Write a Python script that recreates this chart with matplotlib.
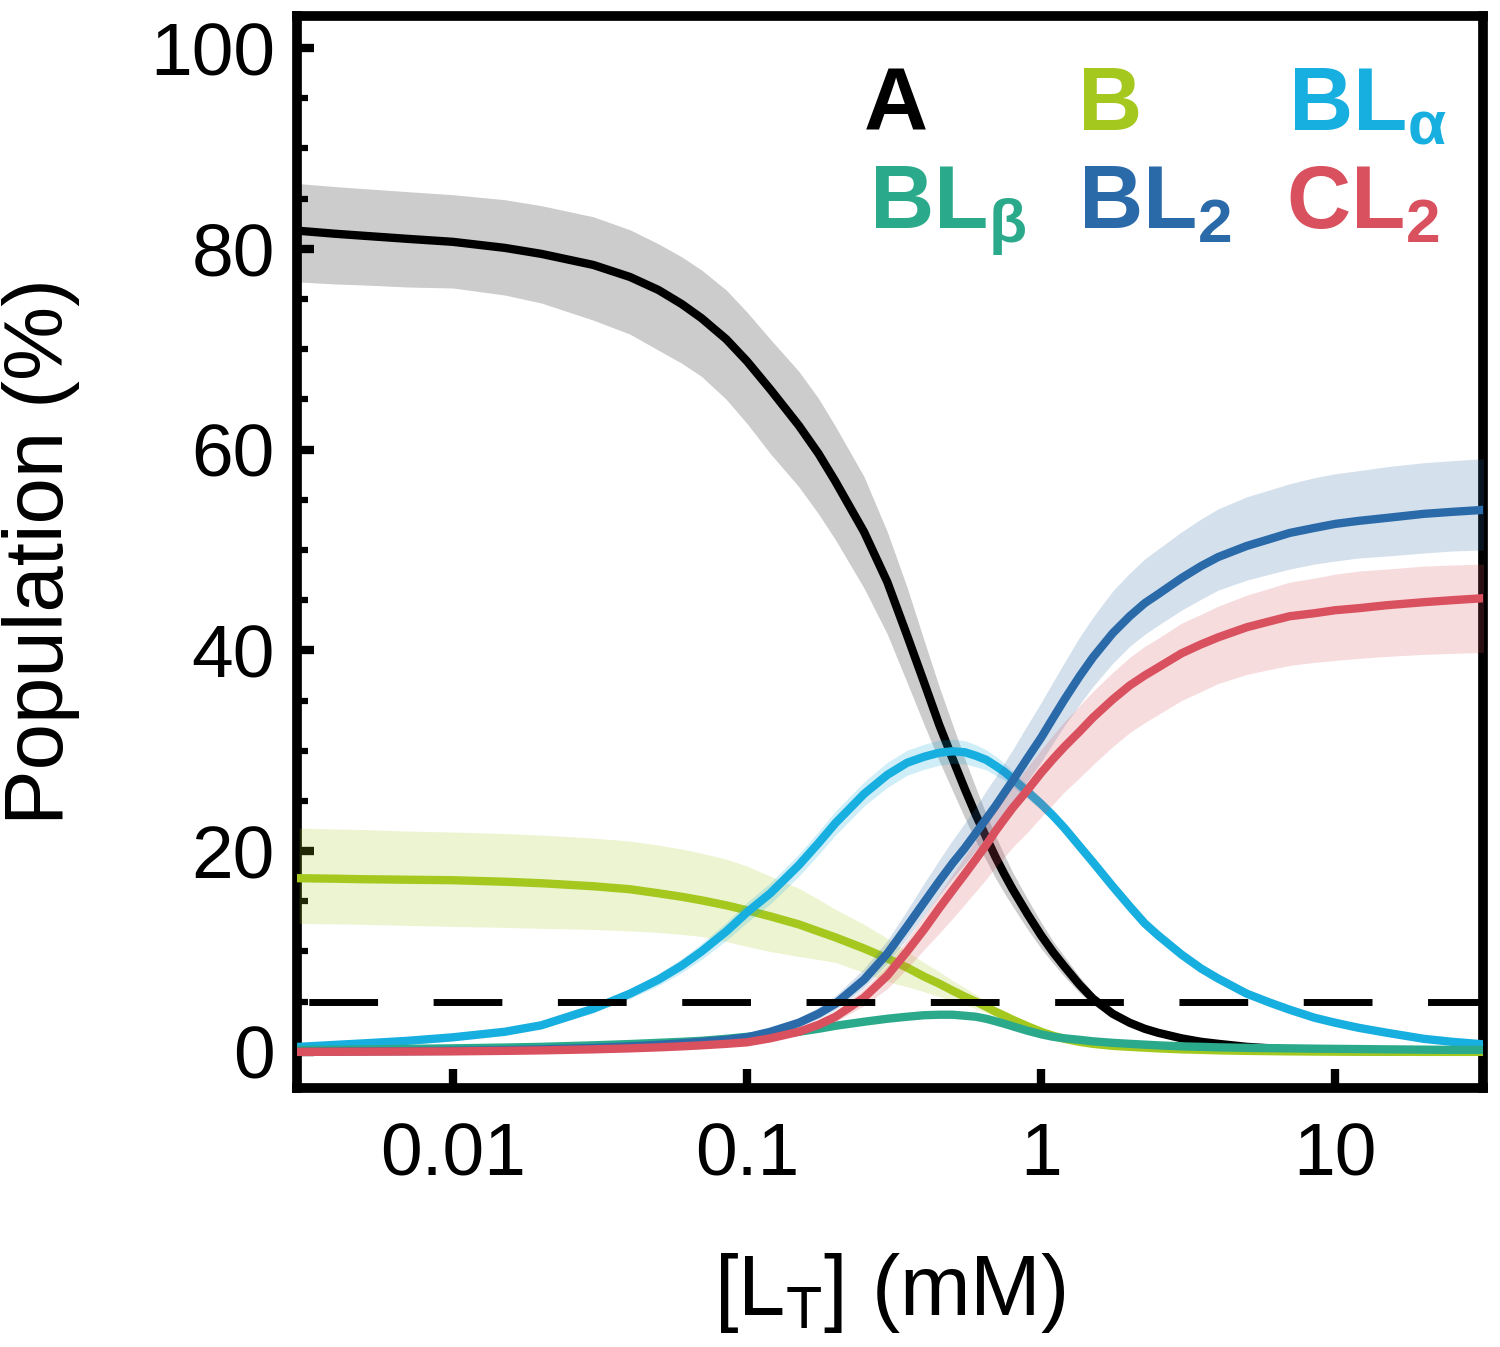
import numpy as np
import matplotlib
matplotlib.use('Agg')
import matplotlib.pyplot as plt
from matplotlib.ticker import MultipleLocator, NullLocator, FixedLocator, FixedFormatter

plt.rcParams['font.family'] = ['Liberation Sans', 'DejaVu Sans']
plt.rcParams['mathtext.default'] = 'regular'

## total ligand concentration (mM)
conc = [0.003, 0.004, 0.005, 0.007, 0.01, 0.015, 0.02, 0.03, 0.04, 0.05,
        0.06, 0.07, 0.085, 0.1, 0.12, 0.15, 0.175, 0.2, 0.25, 0.3,
        0.35, 0.4, 0.45, 0.5, 0.55, 0.6, 0.65, 0.7, 0.75, 0.8,
        0.9, 1.0, 1.1, 1.2, 1.35, 1.5, 1.75, 2, 2.25, 2.5,
        3, 3.5, 4, 5, 6, 7, 8.5, 10, 12, 15,
        20, 25, 32]

## populations (%) with error bands
pop_A = [81.8, 81.5, 81.3, 81.0, 80.7, 80.1, 79.5, 78.4, 77.2, 75.9,
         74.5, 73.1, 71.0, 68.8, 66.0, 62.4, 59.6, 56.8, 51.8, 46.8,
         41.5, 36.8, 32.6, 29.2, 26.2, 23.6, 21.4, 19.4, 17.7, 16.2,
         13.7, 11.6, 9.9, 8.5, 6.7, 5.3, 3.8, 2.9, 2.3, 1.9,
         1.35, 1.0, 0.8, 0.5, 0.35, 0.25, 0.16, 0.1, 0.07, 0.05,
         0.03, 0.02, 0.0]
lo_A = [76.7, 76.5, 76.4, 76.2, 76.1, 75.4, 74.6, 72.9, 71.5, 69.9,
        68.6, 67.3, 65.0, 62.6, 59.6, 56.3, 53.6, 51.0, 46.2, 41.6,
        36.8, 32.6, 29.0, 26.0, 23.3, 21.0, 19.1, 17.3, 15.8, 14.5,
        12.2, 10.3, 8.8, 7.5, 5.9, 4.7, 3.4, 2.6, 2.05, 1.7,
        1.2, 0.9, 0.7, 0.45, 0.3, 0.22, 0.14, 0.09, 0.06, 0.04,
        0.02, 0.01, 0.0]
hi_A = [86.5, 86.2, 86.0, 85.7, 85.4, 84.9, 84.3, 83.2, 81.9, 80.5,
        79.2, 77.9, 75.9, 73.7, 71.0, 67.8, 65.1, 62.3, 57.3, 51.8,
        46.3, 41.0, 36.4, 32.6, 29.2, 26.3, 23.7, 21.5, 19.6, 17.9,
        15.2, 12.9, 11.0, 9.5, 7.5, 5.9, 4.2, 3.2, 2.55, 2.1,
        1.5, 1.1, 0.9, 0.55, 0.4, 0.28, 0.18, 0.11, 0.08, 0.06,
        0.04, 0.03, 0.0]

pop_B = [17.3, 17.25, 17.2, 17.15, 17.1, 16.95, 16.8, 16.5, 16.2, 15.8,
         15.45, 15.1, 14.6, 14.1, 13.5, 12.7, 12.0, 11.4, 10.3, 9.3,
         8.4, 7.5, 6.8, 6.1, 5.5, 5.0, 4.5, 4.0, 3.6, 3.2,
         2.55, 2.0, 1.6, 1.3, 1.0, 0.8, 0.6, 0.5, 0.42, 0.35,
         0.25, 0.2, 0.15, 0.1, 0.07, 0.05, 0.03, 0.02, 0.015, 0.01,
         0.0, 0.0, 0.0]
lo_B = [12.8, 12.75, 12.7, 12.6, 12.5, 12.4, 12.3, 12.2, 12.05, 11.9,
        11.7, 11.5, 11.0, 10.5, 10.0, 9.5, 9.2, 8.9, 7.9, 7.0,
        6.5, 6.0, 5.5, 5.1, 4.7, 4.3, 3.9, 3.5, 3.15, 2.8,
        2.3, 1.8, 1.45, 1.15, 0.9, 0.7, 0.55, 0.45, 0.4, 0.33,
        0.24, 0.19, 0.14, 0.09, 0.06, 0.04, 0.02, 0.01, 0.01, 0.0,
        0.0, 0.0, 0.0]
hi_B = [22.3, 22.2, 22.15, 22.0, 21.9, 21.75, 21.6, 21.3, 21.0, 20.6,
        20.2, 19.8, 19.2, 18.5, 17.5, 16.3, 15.2, 14.2, 12.7, 11.3,
        10.0, 8.9, 8.0, 7.1, 6.4, 5.7, 5.1, 4.5, 4.05, 3.6,
        2.85, 2.25, 1.8, 1.45, 1.1, 0.9, 0.65, 0.55, 0.45, 0.37,
        0.26, 0.21, 0.16, 0.11, 0.08, 0.06, 0.04, 0.03, 0.02, 0.01,
        0.0, 0.0, 0.0]

pop_BLa = [0.5, 0.7, 0.85, 1.1, 1.45, 2.0, 2.65, 4.3, 5.8, 7.2,
           8.6, 10.0, 12.0, 13.9, 15.8, 18.6, 20.8, 22.8, 25.7, 27.6,
           28.8, 29.4, 29.8, 29.95, 29.85, 29.5, 29.1, 28.5, 27.9, 27.2,
           25.9, 24.7, 23.5, 22.3, 20.5, 18.9, 16.5, 14.5, 12.8, 11.6,
           9.7, 8.3, 7.3, 5.8, 4.9, 4.2, 3.4, 2.9, 2.4, 1.9,
           1.3, 1.0, 0.75]
err_BLa = [0.1, 0.1, 0.1, 0.15, 0.2, 0.25, 0.3, 0.4, 0.5, 0.6,
           0.7, 0.8, 0.9, 1.0, 1.05, 1.1, 1.15, 1.2, 1.2, 1.25,
           1.25, 1.25, 1.25, 1.2, 1.15, 1.1, 1.0, 0.95, 0.85, 0.8,
           0.7, 0.6, 0.5, 0.4, 0.35, 0.3, 0.25, 0.2, 0.2, 0.2,
           0.15, 0.15, 0.1, 0.1, 0.1, 0.1, 0.1, 0.1, 0.1, 0.1,
           0.1, 0.1, 0.1]

pop_BLb = [0.2, 0.22, 0.25, 0.3, 0.35, 0.43, 0.5, 0.65, 0.78, 0.9,
           1.0, 1.1, 1.3, 1.5, 1.7, 2.0, 2.3, 2.6, 3.0, 3.3,
           3.5, 3.65, 3.7, 3.7, 3.6, 3.5, 3.3, 3.05, 2.8, 2.55,
           2.1, 1.75, 1.5, 1.35, 1.2, 1.05, 0.9, 0.8, 0.72, 0.65,
           0.55, 0.5, 0.45, 0.4, 0.37, 0.35, 0.32, 0.3, 0.28, 0.25,
           0.22, 0.2, 0.2]
err_BLb = [0.03, 0.03, 0.03, 0.04, 0.05, 0.06, 0.07, 0.09, 0.1, 0.12,
           0.13, 0.14, 0.16, 0.18, 0.2, 0.22, 0.24, 0.25, 0.27, 0.28,
           0.29, 0.3, 0.3, 0.3, 0.3, 0.29, 0.28, 0.26, 0.24, 0.22,
           0.19, 0.16, 0.14, 0.12, 0.1, 0.09, 0.08, 0.07, 0.06, 0.05,
           0.05, 0.04, 0.04, 0.03, 0.03, 0.03, 0.03, 0.03, 0.03, 0.03,
           0.03, 0.03, 0.03]

pop_BL2 = [0.0, 0.03, 0.05, 0.07, 0.1, 0.17, 0.25, 0.4, 0.55, 0.7,
           0.85, 1.0, 1.2, 1.45, 2.0, 2.9, 3.8, 4.8, 7.2, 9.8,
           12.5, 14.9, 17.0, 18.8, 20.3, 21.8, 23.2, 24.5, 25.8, 27.0,
           29.3, 31.3, 33.3, 35.1, 37.4, 39.3, 41.7, 43.4, 44.7, 45.6,
           47.2, 48.4, 49.3, 50.4, 51.1, 51.7, 52.2, 52.6, 52.9, 53.2,
           53.6, 53.8, 54.0]
lo_BL2 = [0.0, 0.02, 0.04, 0.06, 0.08, 0.14, 0.2, 0.35, 0.47, 0.6,
          0.72, 0.85, 1.0, 1.2, 1.7, 2.5, 3.3, 4.2, 6.4, 8.8,
          11.3, 13.6, 15.6, 17.3, 18.7, 20.1, 21.4, 22.6, 23.8, 24.9,
          27.0, 28.9, 30.8, 32.5, 34.6, 36.4, 38.7, 40.4, 41.6, 42.5,
          44.0, 45.1, 46.0, 47.0, 47.6, 48.1, 48.6, 48.9, 49.2, 49.4,
          49.7, 49.9, 50.0]
hi_BL2 = [0.0, 0.04, 0.06, 0.08, 0.12, 0.2, 0.3, 0.47, 0.65, 0.82,
          1.0, 1.18, 1.42, 1.72, 2.35, 3.4, 4.45, 5.6, 8.3, 11.1,
          14.1, 16.8, 19.1, 21.1, 22.8, 24.4, 26.0, 27.4, 28.8, 30.1,
          32.6, 34.8, 36.9, 38.8, 41.3, 43.3, 45.9, 47.7, 49.1, 50.1,
          51.8, 53.1, 54.1, 55.3, 56.0, 56.6, 57.2, 57.6, 57.9, 58.3,
          58.7, 58.9, 59.1]

pop_CL2 = [0.0, 0.01, 0.02, 0.035, 0.05, 0.1, 0.15, 0.25, 0.35, 0.45,
           0.55, 0.65, 0.8, 0.95, 1.35, 2.0, 2.7, 3.5, 5.4, 7.6,
           10.0, 12.2, 14.3, 16.1, 17.7, 19.2, 20.6, 22.0, 23.2, 24.3,
           26.1, 27.8, 29.2, 30.4, 31.9, 33.3, 35.1, 36.5, 37.5, 38.3,
           39.7, 40.6, 41.3, 42.3, 42.9, 43.4, 43.7, 44.0, 44.2, 44.5,
           44.8, 45.0, 45.2]
lo_CL2 = [0.0, 0.0, 0.01, 0.02, 0.04, 0.08, 0.12, 0.2, 0.28, 0.36,
          0.45, 0.53, 0.65, 0.8, 1.1, 1.7, 2.3, 3.0, 4.6, 6.3,
          8.3, 10.2, 11.8, 13.3, 14.7, 16.0, 17.2, 18.4, 19.4, 20.4,
          21.9, 23.4, 24.7, 25.9, 27.3, 28.6, 30.4, 31.8, 32.8, 33.6,
          35.0, 35.9, 36.7, 37.6, 38.1, 38.5, 38.8, 39.0, 39.2, 39.4,
          39.6, 39.7, 39.8]
hi_CL2 = [0.0, 0.02, 0.03, 0.05, 0.06, 0.12, 0.18, 0.3, 0.42, 0.54,
          0.65, 0.77, 0.95, 1.12, 1.6, 2.4, 3.2, 4.1, 6.3, 8.6,
          11.2, 13.6, 15.7, 17.7, 19.5, 21.1, 22.6, 24.0, 25.3, 26.4,
          28.4, 30.1, 31.6, 32.9, 34.5, 35.9, 37.8, 39.3, 40.4, 41.2,
          42.7, 43.6, 44.4, 45.5, 46.2, 46.8, 47.2, 47.6, 47.9, 48.1,
          48.4, 48.5, 48.6]

threshold = 5

lo_BLa = [v - e for v, e in zip(pop_BLa, err_BLa)]
hi_BLa = [v + e for v, e in zip(pop_BLa, err_BLa)]
lo_BLb = [v - e for v, e in zip(pop_BLb, err_BLb)]
hi_BLb = [v + e for v, e in zip(pop_BLb, err_BLb)]

## (values, low, high, colour, label)
species = [
	(pop_A, lo_A, hi_A, '#000000', 'A'),
	(pop_B, lo_B, hi_B, '#a5c81e', 'B'),
	(pop_BLa, lo_BLa, hi_BLa, '#17aee0', r'BL$_{α}$'),
	(pop_BLb, lo_BLb, hi_BLb, '#2aa98b', r'BL$_{β}$'),
	(pop_BL2, lo_BL2, hi_BL2, '#2b6aa9', r'BL$_{2}$'),
	(pop_CL2, lo_CL2, hi_CL2, '#d9505e', r'CL$_{2}$'),
]

fig = plt.figure(figsize=(15, 13.47), dpi=100)
ax = fig.add_axes([297/1500, 1 - 1088/1347, (1483 - 297)/1500, (1088 - 16)/1347])

z = 2
for vals, lo, hi, col, lab in species:
	ax.fill_between(conc, lo, hi, color=col, alpha=0.2, lw=0, zorder=z)
	ax.plot(conc, vals, color=col, lw=6, solid_joinstyle='round', zorder=z + 1)
	z += 2

ax.axhline(threshold, color='black', lw=5, linestyle=(16.2, (9.9, 8.0)), zorder=20)

ax.set_xscale('log')
ax.set_xlim(0.00295, 31.8)
ax.set_ylim(-3.6, 103.2)

ax.xaxis.set_major_locator(FixedLocator([0.01, 0.1, 1, 10]))
ax.xaxis.set_major_formatter(FixedFormatter(['0.01', '0.1', '1', '10']))
ax.xaxis.set_minor_locator(NullLocator())
ax.yaxis.set_major_locator(FixedLocator([0, 20, 40, 60, 80, 100]))
ax.yaxis.set_minor_locator(MultipleLocator(5))

ax.tick_params(axis='x', which='major', direction='in', length=14, width=6, labelsize=54, pad=24)
ax.tick_params(axis='y', which='major', direction='in', length=12, width=6, labelsize=54, pad=16)
ax.tick_params(axis='y', which='minor', direction='in', length=8, width=4.5)
ax.tick_params(top=False, right=False, which='both')

for sp in ax.spines.values():
	sp.set_linewidth(7)

ax.set_xlabel('[L$_T$] (mM)', fontsize=61, labelpad=44)
ax.set_ylabel('Population (%)', fontsize=60, labelpad=50)

## legend drawn as coloured labels
label_pos = [(864, 130), (1078, 130), (1288, 130), (869, 229), (1078, 229), (1286, 229)]
for (vals, lo, hi, col, lab), (px, py) in zip(species, label_pos):
	fig.text(px/1500, 1 - py/1347, lab, color=col, fontsize=64, fontweight='bold',
	         ha='left', va='baseline')

plt.savefig('out.png', dpi=100)
